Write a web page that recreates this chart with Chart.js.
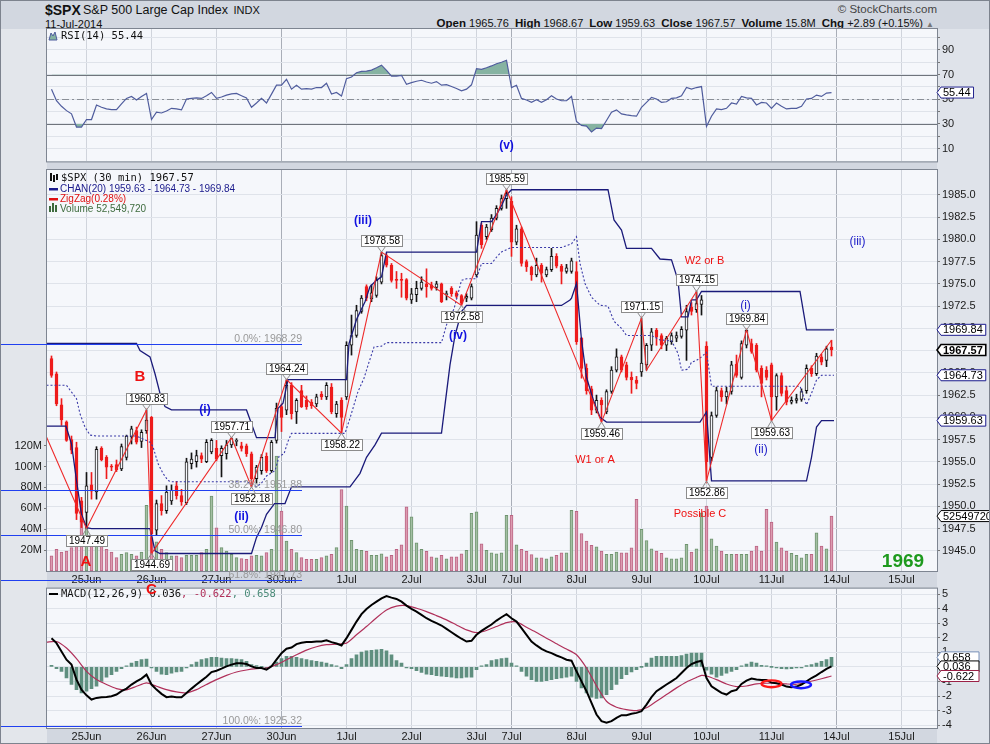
<!DOCTYPE html>
<html>
<head>
<meta charset="utf-8">
<title>$SPX 30 min</title>
<script src="https://cdn.jsdelivr.net/npm/chart.js@4.4.1/dist/chart.umd.min.js"></script>
<style>
  html, body { margin: 0; padding: 0; }
  body { width: 990px; height: 744px; position: relative; overflow: hidden; background: #d2d7e0;
         font-family: "Liberation Sans", Arial, sans-serif; color: #111; }
  canvas { position: absolute; left: 0; }
  .strip { position: absolute; }
  .hd { position: absolute; white-space: nowrap; line-height: 1; }
  .hd b { font-size: 11.5px; margin-left: 3px; }
  .hd b:first-child { margin-left: 0; }
  #frame { position: absolute; left: 0; top: 0; width: 988px; height: 742px; border: 1px solid #7d838e; }
</style>
</head>
<body>
<div class="strip" style="left:1px;top:29px;width:46px;height:714px;background:#e3e6eb"></div>
<div class="strip" style="left:937px;top:29px;width:52px;height:714px;background:#dfe3ea"></div>

<div class="hd" style="left:45px;top:3px;font-size:14px;font-weight:bold">$SPX</div>
<div class="hd" style="left:83px;top:4px;font-size:12.5px">S&amp;P 500 Large Cap Index <span style="font-size:11px;margin-left:2px">INDX</span></div>
<div class="hd" style="left:45px;top:19px;font-size:11px">11-Jul-2014</div>
<div class="hd" style="right:53px;top:4px;font-size:11.5px;color:#444">&copy; StockCharts.com</div>
<div class="hd" style="right:56px;top:18px;font-size:11px"><b>Open</b> 1965.76 <b>High</b> 1968.67 <b>Low</b> 1959.63 <b>Close</b> 1967.57 <b>Volume</b> 15.8M <b>Chg</b> +2.89 (+0.15%) <span style="color:#777;font-size:8px">&#9650;</span></div>

<canvas id="rsiChart" width="990" height="170" style="top:0"></canvas>
<canvas id="macdChart" width="990" height="164" style="top:580px"></canvas>
<canvas id="mainChart" width="990" height="744" style="top:0"></canvas>
<div id="frame"></div>

<script>
// day grid on the bar index axis
const dayTicks = [7, 20, 33, 46, 59, 72, 85, 92, 105, 118, 131, 144, 157, 170];
const dayLabels = ['25Jun', '26Jun', '27Jun', '30Jun', '1Jul', '2Jul', '3Jul', '7Jul', '8Jul', '9Jul', '10Jul', '11Jul', '14Jul', '15Jul'];
const weekStarts = [46, 92, 157];

const priceTicks = [1945, 1947.5, 1950, 1952.5, 1955, 1957.5, 1960, 1962.5, 1965, 1967.5, 1970, 1972.5, 1975, 1977.5, 1980, 1982.5, 1985];
const volTicks = [20, 40, 60, 80, 100, 120];
const rsiTicks = [10, 20, 30, 40, 50, 60, 70, 80, 90, 100];
const macdTicks = [-4, -3, -2, -1, 0, 1, 2, 3, 4, 5];

// 30 min bars, 24 Jun (last 7 bars) .. 11 Jul 2014
const opens = [1966.6,1964.9,1961.4,1959.5,1957.5,1956.6,1950.6,1949.3,1952.4,1951.6,
  1956.5,1955.5,1954.5,1954.7,1954.2,1955.5,1957.8,1958.5,1957.3,1958.5,
  1960.0,1947.3,1950.3,1949.5,1950.6,1952.3,1951.2,1950.4,1954.8,1955.0,
  1955.7,1955.0,1956.1,1956.5,1955.7,1955.9,1956.9,1957.3,1956.8,1956.8,
  1955.9,1953.1,1954.0,1955.6,1954.0,1957.4,1961.2,1960.8,1963.6,1960.6,
  1963.0,1961.9,1961.7,1961.5,1962.6,1962.3,1963.4,1960.4,1961.9,1962.3,
  1968.1,1969.2,1971.9,1974.7,1973.3,1973.7,1975.2,1978.2,1977.1,1975.5,
  1975.5,1975.5,1973.2,1973.8,1974.5,1975.0,1974.9,1974.6,1975.0,1973.8,
  1974.5,1974.0,1973.7,1973.4,1973.4,1976.0,1981.6,1980.3,1981.1,1982.4,
  1983.5,1984.6,1984.3,1979.7,1981.2,1977.5,1976.9,1976.0,1977.1,1976.0,
  1976.6,1978.1,1977.0,1976.4,1976.4,1976.4,1968.9,1965.5,1963.2,1960.8,
  1961.9,1960.6,1962.9,1965.3,1966.8,1965.9,1964.5,1964.2,1965.1,1965.9,
  1968.1,1969.8,1969.2,1968.1,1968.5,1968.9,1969.1,1969.8,1972.4,1972.1,
  1972.7,1968.0,1955.5,1960.2,1963.0,1962.3,1962.9,1966.0,1964.5,1968.1,
  1968.3,1968.1,1965.5,1965.3,1965.9,1962.3,1964.7,1963.0,1961.7,1961.9,
  1962.0,1963.0,1965.5,1964.9,1966.8,1966.4,1967.9];
const highs = [1966.9,1965.1,1962.1,1959.6,1957.9,1957.2,1951.0,1953.8,1953.8,1956.7,
  1956.7,1955.7,1954.7,1955.2,1957.0,1958.0,1959.0,1958.9,1958.6,1960.83,
  1960.1,1950.7,1951.2,1952.3,1952.4,1952.8,1951.9,1955.4,1956.0,1956.3,
  1956.0,1957.5,1957.6,1957.4,1956.8,1957.4,1957.71,1957.6,1957.2,1957.0,
  1956.1,1954.6,1955.8,1956.0,1957.4,1961.6,1961.5,1964.24,1963.9,1962.1,
  1963.6,1962.4,1962.0,1962.6,1962.9,1963.9,1963.8,1961.8,1962.2,1968.5,
  1971.5,1972.6,1973.7,1974.9,1974.9,1975.8,1978.58,1978.4,1977.3,1976.4,
  1976.2,1975.6,1974.5,1975.3,1975.8,1976.7,1975.2,1975.3,1975.1,1974.2,
  1974.7,1974.2,1973.8,1973.9,1975.0,1982.0,1981.8,1981.7,1982.8,1983.8,
  1985.0,1985.59,1984.8,1981.6,1981.4,1977.7,1977.0,1977.9,1977.3,1976.9,
  1979.0,1978.4,1977.2,1977.2,1977.9,1977.5,1969.0,1966.0,1963.5,1962.5,
  1962.2,1963.1,1965.7,1967.7,1967.0,1966.2,1965.1,1964.6,1971.15,1968.3,
  1970.0,1970.0,1969.4,1969.1,1969.5,1969.6,1970.2,1972.6,1972.9,1974.15,
  1973.7,1968.5,1960.6,1963.4,1963.3,1963.4,1966.3,1967.0,1968.6,1969.84,
  1968.8,1968.3,1965.8,1965.7,1966.1,1964.9,1965.0,1963.5,1962.3,1962.6,
  1963.2,1965.9,1965.8,1967.2,1967.1,1968.0,1968.67];
const lows = [1964.5,1961.3,1959.1,1957.3,1955.9,1948.5,1947.6,1947.49,1950.8,1950.8,
  1955.1,1953.1,1954.0,1953.9,1954.0,1955.2,1957.0,1957.0,1956.6,1958.2,
  1944.69,1946.7,1949.0,1949.2,1950.2,1950.8,1950.1,1950.2,1954.2,1954.4,
  1954.9,1954.9,1955.9,1955.1,1953.3,1955.3,1956.6,1956.8,1956.2,1955.6,
  1952.18,1952.6,1953.6,1953.8,1953.8,1957.1,1958.4,1960.3,1959.8,1959.3,
  1961.1,1960.9,1961.0,1961.2,1962.0,1962.0,1960.4,1960.0,1958.22,1962.0,
  1967.0,1969.0,1971.7,1973.1,1973.0,1973.5,1975.0,1976.9,1975.2,1974.5,
  1973.5,1973.2,1972.8,1973.0,1974.3,1973.5,1974.3,1974.3,1972.9,1973.2,
  1973.6,1973.4,1972.58,1973.0,1973.2,1975.8,1979.0,1980.0,1980.9,1982.2,
  1983.3,1983.5,1978.1,1979.4,1977.0,1976.4,1975.4,1975.8,1975.2,1975.8,
  1976.4,1976.8,1975.0,1976.2,1976.2,1968.2,1964.4,1962.6,1960.3,1960.5,
  1959.46,1960.4,1962.7,1965.1,1965.1,1964.2,1962.7,1963.2,1964.6,1965.3,
  1967.5,1968.1,1967.7,1967.5,1968.2,1968.5,1968.9,1966.4,1971.5,1971.8,
  1971.5,1952.86,1955.1,1960.0,1961.8,1961.5,1962.6,1964.5,1964.3,1967.8,
  1967.2,1965.1,1962.3,1964.2,1959.63,1960.8,1962.4,1961.4,1961.5,1961.6,
  1961.8,1962.7,1964.6,1964.7,1965.9,1965.7,1966.9];
const closes = [1964.7,1961.5,1959.7,1957.4,1956.3,1949.2,1948.2,1952.3,1951.7,1956.4,
  1955.2,1954.4,1954.4,1954.1,1956.7,1957.9,1958.7,1957.2,1958.3,1959.7,
  1946.9,1950.3,1949.5,1951.6,1951.8,1951.2,1950.5,1955.0,1955.3,1955.7,
  1955.3,1957.2,1957.4,1955.3,1956.5,1956.9,1957.6,1957.4,1956.5,1955.9,
  1953.1,1954.4,1955.5,1954.0,1957.2,1961.0,1960.0,1963.6,1960.4,1961.9,
  1961.2,1961.2,1961.3,1962.3,1962.3,1963.6,1960.6,1961.5,1960.0,1968.1,
  1969.2,1972.0,1973.4,1973.4,1974.0,1975.4,1978.2,1977.1,1975.4,1975.4,
  1975.4,1973.4,1973.9,1974.5,1975.2,1974.7,1974.5,1975.0,1973.0,1973.9,
  1973.9,1973.6,1972.8,1973.6,1974.7,1980.5,1979.4,1981.4,1982.4,1983.5,
  1984.6,1985.2,1979.7,1981.2,1977.3,1976.9,1976.0,1977.1,1976.2,1976.6,
  1978.1,1977.0,1976.4,1976.8,1977.6,1968.5,1965.5,1963.0,1960.8,1961.9,
  1961.4,1962.9,1965.3,1966.8,1965.3,1964.5,1964.2,1963.8,1966.1,1968.1,
  1969.6,1969.0,1968.1,1968.9,1969.2,1969.2,1969.9,1971.9,1971.9,1972.8,
  1973.2,1955.0,1960.2,1963.0,1962.3,1962.9,1965.9,1964.7,1968.3,1969.8,
  1967.4,1965.3,1963.8,1964.5,1962.3,1964.7,1962.7,1961.7,1961.9,1962.1,
  1962.9,1965.5,1964.9,1966.9,1966.2,1967.7,1967.57];
// volume in millions of shares
const volumes = [14.4,20.7,18.2,19.1,22.3,27.0,52.6,43.0,27.0,24.0,
  24.5,20.7,18.2,12.8,16.0,17.6,16.0,14.4,18.2,62.9,
  32.0,28.0,20.7,17.6,14.4,14.4,12.8,15.0,15.0,15.0,
  17.6,20.7,71.8,41.4,22.3,19.1,16.0,12.8,11.9,11.2,
  14.4,15.0,14.4,17.6,20.7,110.0,57.4,28.6,20.7,17.6,
  12.8,11.2,11.2,11.2,12.8,14.4,16.0,22.3,78.0,62.0,
  29.3,20.7,19.7,18.8,15.0,15.0,16.5,13.6,15.0,20.7,
  25.1,61.5,51.9,27.0,20.7,18.8,13.6,12.7,15.0,11.7,
  13.6,13.6,16.5,19.7,55.1,56.7,26.1,19.7,17.5,16.5,
  17.5,53.2,53.2,25.1,20.7,18.8,15.6,12.7,12.7,11.7,
  13.6,15.0,17.5,17.5,58.0,57.0,35.9,28.6,24.5,23.2,
  19.1,15.9,15.9,18.1,17.5,17.5,22.2,68.5,39.8,29.2,
  21.3,19.1,16.8,12.7,11.7,11.7,12.7,25.4,18.1,21.3,
  55.7,62.1,30.8,23.8,19.1,15.9,15.9,15.9,15.9,15.9,
  19.1,23.8,19.1,58.9,46.8,27.6,22.2,19.1,16.8,14.9,
  12.7,15.9,15.9,36.5,23.8,21.3,52.55];
const lastVolume = 52549720;

const rsi = [58.1,48.8,44.3,40.8,38.2,27.5,27.5,33.6,33.6,45.4,
  43.5,42.2,41.6,41.6,46.2,50.7,52.3,49.4,52.3,54.7,
  33.6,39.5,38.9,40.5,42.7,42.2,41.4,50.2,50.7,51.2,
  50.7,52.8,55.5,50.7,51.8,53.4,54.4,54.7,52.8,51.0,
  43.5,47.0,50.7,47.0,54.2,61.4,61.4,66.2,58.2,61.4,
  58.2,58.7,58.2,59.5,59.5,63.0,54.2,55.5,52.6,66.7,
  68.0,71.5,72.6,72.8,73.6,75.5,77.6,73.4,68.8,68.8,
  69.4,62.2,63.5,64.6,65.4,64.0,63.0,64.3,61.4,61.9,
  60.3,58.7,56.8,58.2,61.7,74.7,74.2,75.5,77.0,78.8,
  80.0,81.6,59.5,61.4,50.7,49.4,47.5,49.6,47.5,49.6,
  52.8,50.2,48.8,48.8,52.3,32.0,28.8,28.3,23.5,26.7,
  26.2,32.8,39.5,41.4,38.2,37.4,36.8,36.3,43.5,47.5,
  51.5,50.2,47.5,48.0,50.7,51.2,52.8,59.5,58.2,59.5,
  60.3,28.0,36.3,42.2,41.6,42.7,47.0,46.2,52.3,51.2,
  50.7,45.4,47.5,47.0,42.7,47.0,44.3,42.2,42.7,42.7,
  44.3,50.2,50.7,53.4,52.3,55.0,55.44];

const macd = [1.98,1.64,1.07,0.50,0.16,-0.87,-1.56,-1.95,-2.24,-2.13,
  -2.08,-2.06,-2.01,-1.90,-1.67,-1.49,-1.21,-0.99,-0.80,-0.53,
  -1.21,-1.56,-1.85,-2.08,-2.04,-2.08,-2.08,-1.79,-1.49,-1.21,
  -0.94,-0.67,-0.35,-0.26,-0.12,0.04,0.16,0.25,0.25,0.20,
  0.04,-0.07,-0.07,-0.19,0.04,0.50,0.95,1.25,1.34,1.57,
  1.66,1.71,1.71,1.75,1.75,1.84,1.71,1.61,1.48,1.98,
  2.55,3.12,3.63,3.99,4.26,4.49,4.72,4.88,4.77,4.68,
  4.49,4.22,3.99,3.81,3.58,3.35,3.17,3.01,2.85,2.62,
  2.39,2.16,1.94,1.75,1.80,2.21,2.48,2.71,2.92,3.19,
  3.42,3.63,3.35,3.12,2.67,2.21,1.75,1.48,1.25,1.07,
  0.95,0.79,0.66,0.50,0.43,-0.30,-0.99,-1.67,-2.47,-3.27,
  -3.73,-3.84,-3.73,-3.50,-3.32,-3.32,-3.22,-3.16,-3.04,-2.59,
  -2.08,-1.67,-1.44,-1.21,-0.99,-0.76,-0.42,-0.07,0.20,0.34,
  0.43,-0.76,-1.33,-1.56,-1.78,-1.90,-1.67,-1.58,-1.17,-0.94,
  -0.80,-0.87,-0.90,-0.90,-1.08,-1.12,-1.21,-1.35,-1.40,-1.35,
  -1.21,-0.99,-0.76,-0.58,-0.35,-0.14,0.036];
const macdHist = [0.11,-0.12,-0.30,-0.76,-1.21,-1.56,-1.78,-1.67,-1.49,-1.33,
  -0.99,-0.71,-0.53,-0.30,-0.12,0.04,0.27,0.38,0.50,0.54,
  -0.07,-0.30,-0.49,-0.53,-0.42,-0.35,-0.30,-0.07,0.16,0.34,
  0.50,0.57,0.66,0.66,0.61,0.57,0.57,0.54,0.50,0.38,
  0.16,0.09,0.00,-0.12,0.04,0.34,0.57,0.73,0.73,0.66,
  0.57,0.50,0.43,0.38,0.34,0.27,0.16,0.04,-0.12,0.16,
  0.57,0.84,1.02,1.11,1.14,1.18,1.21,1.11,0.84,0.43,
  0.27,-0.03,-0.12,-0.26,-0.37,-0.49,-0.53,-0.60,-0.64,-0.67,
  -0.71,-0.76,-0.76,-0.71,-0.71,-0.19,0.04,0.16,0.43,0.50,
  0.57,0.61,0.27,0.04,-0.30,-0.64,-0.87,-0.99,-0.99,-0.94,
  -0.87,-0.80,-0.76,-0.71,-0.64,-0.99,-1.44,-1.78,-2.08,-2.17,
  -2.13,-1.90,-1.56,-1.21,-0.80,-0.53,-0.35,-0.19,0.00,0.27,
  0.61,0.73,0.73,0.73,0.73,0.73,0.79,0.88,0.95,0.95,
  0.95,-0.23,-0.49,-0.71,-0.58,-0.42,-0.30,-0.19,0.04,0.20,
  0.34,0.27,0.11,0.04,0.00,-0.07,-0.12,-0.14,-0.12,-0.07,
  -0.03,0.09,0.16,0.27,0.38,0.50,0.658];
// signal line, read every other bar: [bar index, value]
const macdSignal = [[-1,1.71],[1,1.75],[3,1.30],[5,0.57],[7,-0.30],[9,-0.87],[11,-1.21],[13,-1.49],[15,-1.58],[17,-1.33],
  [19,-1.10],[21,-1.33],[23,-1.56],[25,-1.72],[27,-1.79],[29,-1.56],[31,-1.21],[33,-0.87],[35,-0.58],[37,-0.35],
  [39,-0.21],[41,-0.12],[43,-0.07],[45,0.16],[47,0.50],[49,0.84],[51,1.16],[53,1.39],[55,1.53],[57,1.57],
  [59,1.64],[61,2.21],[63,2.78],[65,3.39],[67,3.92],[69,4.19],[71,4.22],[73,4.04],[75,3.81],[77,3.53],
  [79,3.24],[81,2.89],[83,2.55],[85,2.37],[87,2.51],[89,2.78],[91,3.05],[93,3.10],[95,2.73],[97,2.37],
  [99,1.98],[101,1.59],[103,1.23],[105,0.84],[107,-0.07],[109,-1.30],[111,-2.36],[113,-2.77],[115,-2.93],[117,-3.00],
  [119,-2.81],[121,-2.36],[123,-1.90],[125,-1.44],[127,-1.03],[129,-0.72],[130,-0.58],[131,-0.62],[133,-0.87],[135,-1.17],
  [137,-1.35],[139,-1.31],[141,-1.17],[143,-1.12],[145,-1.12],[147,-1.17],[149,-1.19],[151,-1.06],[153,-0.90],[155,-0.72],[156,-0.622]];

// price channel (20), read at its corners: [bar index, price]
const chanUpper = [[-1,1968.3],[17,1968.3],[17.7,1967.5],[19.7,1966.8],[20.7,1964.9],[21.7,1962.7],[22.7,1961.2],[24,1960.83],
  [39,1960.83],[41,1957.71],[44.7,1957.71],[45.3,1961.0],[46.3,1961.6],[47.3,1964.24],[59,1964.24],[59.5,1968.3],
  [61,1971.0],[62.7,1973.0],[63.7,1974.7],[65,1975.4],[66,1975.8],[67,1978.58],[85,1978.58],[86,1982.0],[88,1982.0],
  [89,1982.8],[90,1983.8],[91,1985.0],[92,1985.59],[111.3,1985.59],[112.5,1982.2],[114,1981.06],[115,1979.0],[120,1979.0],
  [121.7,1977.8],[124,1977.7],[125.3,1975.4],[126,1971.3],[127.3,1971.3],[128,1973.2],[129,1973.2],[130,1974.15],
  [149.7,1974.15],[151,1969.84],[156.5,1969.84]];
const chanLower = [[-1,1959.0],[2.9,1959.0],[4,1957.0],[5,1952.9],[6,1949.1],[7,1947.6],[8,1947.49],[19.7,1947.49],
  [20.7,1945.0],[21.7,1944.69],[40,1944.69],[41,1946.5],[42,1947.6],[43,1949.1],[44.6,1950.3],[46.7,1950.3],[48,1952.18],
  [59.7,1952.18],[61.7,1953.7],[63,1955.5],[64.7,1956.9],[66,1958.22],[78,1958.22],[78.7,1961.4],[79.7,1965.9],
  [80.7,1969.2],[82,1971.9],[83,1972.58],[102,1972.58],[103.7,1973.2],[104,1973.4],[105,1975.05],[106,1968.7],
  [107,1964.5],[108.4,1961.9],[109.7,1960.0],[111,1959.46],[129.7,1959.46],[131,1960.6],[132,1952.86],[151,1952.86],
  [152,1955.5],[153,1958.9],[154,1959.63],[156.5,1959.63]];
const chanMid = [[-1,1963.6],[3,1963.6],[5,1962.1],[5.7,1960.4],[6.7,1958.9],[7.7,1958.0],[9,1957.9],[17,1957.9],
  [19.7,1957.2],[20.3,1956.7],[21.3,1954.8],[22.3,1953.7],[23.3,1952.9],[24,1952.76],[39,1952.76],[41,1952.2],
  [42,1952.6],[43,1953.4],[44.7,1954.0],[45.5,1955.6],[46.5,1955.9],[47.3,1957.3],[48,1958.2],[58.7,1958.2],
  [59.7,1959.9],[61.3,1962.9],[62.5,1964.4],[63.5,1966.2],[64.5,1967.9],[66,1968.0],[67,1968.4],[78,1968.4],
  [79,1970.4],[80.5,1972.2],[82,1975.4],[83,1975.58],[85,1975.58],[86,1977.3],[88,1977.3],[89,1978.0],[90,1978.6],
  [92,1979.1],[102,1979.1],[104,1979.5],[105,1980.3],[105.7,1977.3],[106.7,1975.05],[108,1973.5],[109.7,1972.6],
  [111.3,1972.5],[112.5,1970.8],[114,1970.0],[115,1969.2],[120,1969.2],[121.7,1968.7],[124,1968.6],[125.3,1967.2],
  [126,1965.3],[127.3,1965.4],[128,1966.2],[129,1966.4],[130,1966.8],[131,1967.3],[132,1963.5],[149.7,1963.5],
  [151,1961.4],[152,1962.7],[153,1964.2],[154,1964.73],[156.5,1964.73]];

const zigzag = [[-1,1957.8],[7,1947.49],[19,1960.83],[20,1944.69],[36,1957.71],[40,1952.18],[47,1964.24],[58,1958.22],
  [66,1978.58],[82,1972.58],[91,1985.59],[110,1959.46],[118,1971.15],[119,1965.3],[129,1974.15],[131,1952.86],
  [139,1969.84],[144,1959.63],[156,1968.67]];
const pivotLabels = [[7,1947.49],[19,1960.83],[20,1944.69],[36,1957.71],[40,1952.18],[47,1964.24],[58,1958.22],
  [66,1978.58],[82,1972.58],[91,1985.59],[110,1959.46],[118,1971.15],[129,1974.15],[131,1952.86],[139,1969.84],[144,1959.63]];

const fibLevels = [['0.0%', 1968.29], ['38.2%', 1951.88], ['50.0%', 1946.80], ['61.8%', 1941.73], ['100.0%', 1925.32]];
const fibEnd = 50.1;

// hand-drawn wave notes: [text, bar index, price, kind]
const waveNotes = [
  ['B', 17.7, 1964.6, 'big'], ['A', 6.9, 1943.8, 'big'], ['C', 20, 1940.6, 'big'],
  ['(i)', 30.7, 1960.9, 'wave'], ['(ii)', 38, 1948.8, 'wave'], ['(iii)', 62.3, 1982.1, 'wave'],
  ['(iv)', 81.3, 1969.2, 'wave'], ['(v)', 91, 1990.5, 'wave'],
  ['W2 or B', 130.6, 1977.6, 'note'], ['W1 or A', 108.7, 1955.2, 'note'], ['Possible C', 129.7, 1949.1, 'note'],
  ['(i)', 138.8, 1972.5, 'sub'], ['(ii)', 141.9, 1956.4, 'sub'], ['(iii)', 161.2, 1979.7, 'sub'],
  ['1969', 170.3, 1943.8, 'target']
];
// crossover circles on MACD: [bar index, value, colour]
const macdRings = [[144, -1.16, '#ff1a1a'], [149.9, -1.23, '#1a1aff']];

const N = closes.length;
const xMin = -0.9, xMax = 177.1;
const PANEL_BG = '#f5f7fb';
const GRID = '#dfe3ea';
const RED = '#ee1c1c';
const isUp = closes.map((c, i) => c >= opens[i]);
const pts = arr => arr.map(p => ({ x: p[0], y: p[1] }));
const series = arr => arr.map((v, i) => ({ x: i, y: v }));

function dayScale(withLabels) {
  return {
    type: 'linear', min: xMin, max: xMax, offset: false,
    afterBuildTicks: s => { s.ticks = dayTicks.map(v => ({ value: v })); },
    afterFit: s => { s.height = withLabels ? 16 : 0; },
    ticks: {
      display: withLabels, autoSkip: false, maxRotation: 0, minRotation: 0, padding: 2,
      color: '#1a1a1a', font: { family: 'Liberation Sans', size: 11 },
      callback: v => dayLabels[dayTicks.indexOf(v)]
    },
    grid: { drawTicks: false, offset: false, color: c => weekStarts.includes(c.tick.value) ? '#a9aeb8' : '#d0d4dc' },
    border: { display: false }
  };
}

function rightAxis(min, max, ticks, fmt) {
  return {
    position: 'right', min: min, max: max,
    afterBuildTicks: s => { s.ticks = ticks.map(v => ({ value: v })); },
    afterFit: s => { s.width = 53; },
    ticks: { autoSkip: false, color: '#1a1a1a', font: { family: 'Liberation Sans', size: 11 }, padding: 2, callback: fmt },
    grid: { color: GRID, tickColor: '#777', tickLength: 3 },
    border: { display: false }
  };
}

const common = {
  responsive: false, animation: false, devicePixelRatio: 1, events: [],
  plugins: { legend: { display: false }, tooltip: { enabled: false } }
};

const panelPlugin = {
  id: 'panel',
  beforeDraw(chart) {
    const { ctx, chartArea: a } = chart;
    ctx.save();
    ctx.fillStyle = PANEL_BG;
    ctx.fillRect(a.left, a.top, a.right - a.left, a.bottom - a.top);
    ctx.restore();
  },
  afterDatasetsDraw(chart) {
    const { ctx, chartArea: a } = chart;
    ctx.save();
    ctx.strokeStyle = '#7e8591';
    ctx.lineWidth = 1;
    ctx.strokeRect(a.left - 0.5, a.top - 0.5, a.right - a.left + 1, a.bottom - a.top + 1);
    ctx.restore();
  }
};

// value flag on the right axis
function axisFlag(ctx, x, y, txt, border, bold, minW) {
  ctx.font = (bold ? 'bold ' : '') + '11px "Liberation Sans"';
  const w = Math.max(minW || 0, ctx.measureText(txt).width + 5);
  ctx.beginPath();
  ctx.moveTo(x, y);
  ctx.lineTo(x + 4, y - 5.5);
  ctx.lineTo(x + 4 + w, y - 5.5);
  ctx.lineTo(x + 4 + w, y + 5.5);
  ctx.lineTo(x + 4, y + 5.5);
  ctx.closePath();
  ctx.fillStyle = '#fff';
  ctx.fill();
  ctx.lineWidth = bold ? 1.6 : 1;
  ctx.strokeStyle = border;
  ctx.stroke();
  ctx.fillStyle = '#000';
  ctx.textAlign = 'left';
  ctx.textBaseline = 'middle';
  ctx.fillText(txt, x + 6, y + 0.5);
}

/* ---------------- RSI ---------------- */
const RSI_FILL = '#86b3a2';
const rsiOverlay = {
  id: 'rsiOverlay',
  beforeDatasetsDraw(chart) {
    const { ctx, chartArea: a, scales: { y } } = chart;
    ctx.save();
    [[70, []], [30, []], [50, [7, 3, 2, 3]]].forEach(([v, dash]) => {
      const py = Math.round(y.getPixelForValue(v)) + 0.5;
      ctx.strokeStyle = v === 50 ? '#8a8f97' : '#6f747c';
      ctx.setLineDash(dash);
      ctx.beginPath(); ctx.moveTo(a.left, py); ctx.lineTo(a.right, py); ctx.stroke();
    });
    ctx.restore();
  },
  afterDraw(chart) {
    const { ctx, chartArea: a, scales: { y } } = chart;
    ctx.save();
    // legend
    ctx.fillStyle = RSI_FILL; ctx.strokeStyle = '#4f5c9d';
    ctx.beginPath(); ctx.moveTo(49, 40); ctx.lineTo(51, 33); ctx.lineTo(53, 36); ctx.lineTo(55, 32); ctx.lineTo(57, 40); ctx.closePath();
    ctx.fill(); ctx.stroke();
    ctx.fillStyle = '#111';
    ctx.font = '10.5px "DejaVu Sans Mono"';
    ctx.textBaseline = 'middle';
    ctx.fillText('RSI(14) ' + rsi[N - 1].toFixed(2), 61, 36);
    axisFlag(ctx, a.right, y.getPixelForValue(rsi[N - 1]), rsi[N - 1].toFixed(2), '#23238e', false);
    ctx.restore();
  }
};

new Chart(document.getElementById('rsiChart'), {
  type: 'line',
  data: {
    datasets: [
      { data: series(rsi), borderColor: '#4f5c9d', borderWidth: 1.2, pointRadius: 0, tension: 0,
        fill: { target: { value: 70 }, above: RSI_FILL, below: 'rgba(0,0,0,0)' } },
      { data: series(rsi), borderColor: 'rgba(0,0,0,0)', borderWidth: 0, pointRadius: 0, tension: 0,
        fill: { target: { value: 30 }, above: 'rgba(0,0,0,0)', below: RSI_FILL } }
    ]
  },
  options: Object.assign({}, common, {
    layout: { autoPadding: false, padding: { left: 47, top: 29, bottom: 6, right: 0 } },
    scales: {
      x: dayScale(false),
      y: rightAxis(-0.3, 106.9, rsiTicks, v => (v % 20 === 10 ? String(v) : ''))
    }
  }),
  plugins: [panelPlugin, rsiOverlay]
});

/* ---------------- MACD ---------------- */
const MACD_RED = '#b0305a';
const MACD_HIST = '#5f8f7f';
const macdOverlay = {
  id: 'macdOverlay',
  afterDraw(chart) {
    const { ctx, chartArea: a, scales: { x, y } } = chart;
    ctx.save();
    macdRings.forEach(([i, v, c]) => {
      ctx.beginPath();
      ctx.ellipse(x.getPixelForValue(i), y.getPixelForValue(v), 10, 3.4, 0, 0, Math.PI * 2);
      ctx.strokeStyle = c; ctx.lineWidth = 2.4; ctx.stroke();
    });
    // legend
    ctx.fillStyle = '#000';
    ctx.fillRect(49, 13, 9, 2);
    ctx.font = '10.5px "DejaVu Sans Mono"';
    ctx.textBaseline = 'middle';
    let tx = 61;
    const seg = (t, c) => { ctx.fillStyle = c; ctx.fillText(t, tx, 14); tx += ctx.measureText(t).width; };
    const sig = macdSignal[macdSignal.length - 1][1];
    seg('MACD(12,26,9) ' + macd[N - 1].toFixed(3), '#111');
    seg(', ' + sig.toFixed(3), MACD_RED);
    seg(', ' + macdHist[N - 1].toFixed(3), '#4a8a78');
    axisFlag(ctx, a.right, y.getPixelForValue(macdHist[N - 1]), macdHist[N - 1].toFixed(3), '#7890b8', false, 38);
    axisFlag(ctx, a.right, y.getPixelForValue(macd[N - 1]), macd[N - 1].toFixed(3), '#000', false, 38);
    axisFlag(ctx, a.right, y.getPixelForValue(sig), sig.toFixed(3), '#9a1f45', false, 38);
    ctx.restore();
  }
};

new Chart(document.getElementById('macdChart'), {
  type: 'bar',
  data: {
    datasets: [
      { type: 'line', data: series(macd), borderColor: '#000', borderWidth: 2, pointRadius: 0, order: 1 },
      { type: 'line', data: pts(macdSignal), borderColor: MACD_RED, borderWidth: 1.2, pointRadius: 0, tension: 0.2, order: 2 },
      { type: 'bar', data: series(macdHist), backgroundColor: MACD_HIST, borderColor: '#3d6b5c', borderWidth: 0,
        barThickness: 3, grouped: false, minBarLength: 1, order: 3 }
    ]
  },
  options: Object.assign({}, common, {
    layout: { autoPadding: false, padding: { left: 47, top: 7, bottom: 0, right: 0 } },
    scales: {
      x: dayScale(true),
      y: rightAxis(-4.2, 5.39, macdTicks, v => String(v))
    }
  }),
  plugins: [panelPlugin, macdOverlay]
});

/* ---------------- price + volume ---------------- */
function pivotBox(ctx, px, py, txt, above) {
  ctx.font = '10px "Liberation Sans"';
  const w = Math.round(ctx.measureText(txt).width + 5), h = 11;
  const bx = Math.round(px - w / 2) + 0.5;
  const by = Math.round(above ? py - 6 - h : py + 6) + 0.5;
  ctx.strokeStyle = '#8c8c8c'; ctx.lineWidth = 1;
  ctx.beginPath();
  if (above) { ctx.moveTo(px - 4, by + h); ctx.lineTo(px, py); ctx.lineTo(px + 4, by + h); }
  else { ctx.moveTo(px - 4, by); ctx.lineTo(px, py); ctx.lineTo(px + 4, by); }
  ctx.stroke();
  ctx.fillStyle = '#fff';
  ctx.fillRect(bx, by, w, h);
  ctx.strokeRect(bx, by, w, h);
  ctx.fillStyle = '#000';
  ctx.textAlign = 'center'; ctx.textBaseline = 'middle';
  ctx.fillText(txt, bx + w / 2, by + h / 2 + 0.5);
}

const noteStyle = {
  big: ['bold 15px "Liberation Sans"', '#ee1111'],
  wave: ['bold 12px "Liberation Sans"', '#1111e0'],
  note: ['11px "Liberation Sans"', '#ee1111'],
  sub: ['12px "Liberation Sans"', '#1c1cc8'],
  target: ['bold 19px "Liberation Sans"', '#1e9a1e']
};

const mainOverlay = {
  id: 'mainOverlay',
  afterDraw(chart) {
    const { ctx, chartArea: a, scales: { x, y, vol } } = chart;
    ctx.save();
    // fibonacci retracement lines
    const fx = x.getPixelForValue(fibEnd);
    fibLevels.forEach(([pct, p]) => {
      const py = Math.round(y.getPixelForValue(p)) + 0.5;
      ctx.strokeStyle = '#2040f0'; ctx.lineWidth = 1;
      ctx.beginPath(); ctx.moveTo(0, py); ctx.lineTo(fx, py); ctx.stroke();
      ctx.fillStyle = '#999';
      ctx.font = '10.5px "Liberation Sans"';
      ctx.textAlign = 'right'; ctx.textBaseline = 'alphabetic';
      ctx.fillText(pct + ': ' + p.toFixed(2), fx, py - 2.5);
    });
    // zigzag pivot values
    pivotLabels.forEach(([i, p]) => {
      const above = Math.abs(highs[i] - p) < 0.005;
      pivotBox(ctx, x.getPixelForValue(i), y.getPixelForValue(p), p.toFixed(2), above);
    });
    // wave notes
    waveNotes.forEach(([t, i, p, kind]) => {
      ctx.font = noteStyle[kind][0];
      ctx.fillStyle = noteStyle[kind][1];
      ctx.textAlign = 'center'; ctx.textBaseline = 'middle';
      ctx.fillText(t, x.getPixelForValue(i), y.getPixelForValue(p));
    });
    // legend
    ctx.textAlign = 'left'; ctx.textBaseline = 'middle';
    ctx.fillStyle = '#111';
    [[50, 173, 181], [53, 175, 182], [56, 174, 180]].forEach(([lx, t, b]) => ctx.fillRect(lx, t, 2, b - t));
    ctx.font = '10.5px "DejaVu Sans Mono"';
    ctx.fillText('$SPX (30 min) ' + closes[N - 1].toFixed(2), 61, 178);
    ctx.font = '10px "Liberation Sans"';
    ctx.fillStyle = '#1a1a8c'; ctx.fillRect(49, 188, 9, 2.5);
    const lo = chanLower[chanLower.length - 1][1], mid = chanMid[chanMid.length - 1][1], up = chanUpper[chanUpper.length - 1][1];
    ctx.fillText('CHAN(20) ' + lo.toFixed(2) + ' - ' + mid.toFixed(2) + ' - ' + up.toFixed(2), 60, 189.5);
    ctx.fillStyle = '#e01010'; ctx.fillRect(49, 198, 9, 2.5);
    ctx.fillText('ZigZag(0.28%)', 60, 199.5);
    ctx.fillStyle = '#3d6b3d';
    [[49, 206], [52, 203], [55, 205]].forEach(([lx, t]) => ctx.fillRect(lx, t, 2, 212 - t));
    ctx.fillText('Volume ' + lastVolume.toLocaleString('en-US'), 60, 209);
    // right axis flags
    axisFlag(ctx, a.right, y.getPixelForValue(up), up.toFixed(2), '#1a1a8c', false);
    axisFlag(ctx, a.right, y.getPixelForValue(mid), mid.toFixed(2), '#1a1a8c', false);
    axisFlag(ctx, a.right, y.getPixelForValue(lo), lo.toFixed(2), '#1a1a8c', false);
    axisFlag(ctx, a.right, vol.getPixelForValue(volumes[N - 1]), String(lastVolume), '#000', false);
    axisFlag(ctx, a.right, y.getPixelForValue(closes[N - 1]), closes[N - 1].toFixed(2), '#000', true);
    ctx.restore();
  }
};

new Chart(document.getElementById('mainChart'), {
  type: 'bar',
  data: {
    datasets: [
      { type: 'line', label: 'ZigZag', data: pts(zigzag), borderColor: '#ee2a2a', borderWidth: 1.1, pointRadius: 0, order: 1 },
      { type: 'line', data: pts(chanUpper), borderColor: '#1a1a7a', borderWidth: 1.3, pointRadius: 0, order: 2 },
      { type: 'line', data: pts(chanLower), borderColor: '#1a1a7a', borderWidth: 1.3, pointRadius: 0, order: 2 },
      { type: 'line', data: pts(chanMid), borderColor: '#3a3aa8', borderWidth: 1.1, borderDash: [2, 2], pointRadius: 0, order: 2 },
      { type: 'bar', label: 'body', data: opens.map((o, i) => ({ x: i, y: [o, closes[i]] })),
        backgroundColor: isUp.map(u => (u ? PANEL_BG : RED)), borderColor: isUp.map(u => (u ? '#151515' : RED)),
        borderWidth: 1, borderSkipped: false, barThickness: 3, minBarLength: 1, grouped: false, order: 5 },
      { type: 'bar', label: 'wick', data: lows.map((l, i) => ({ x: i, y: [l, highs[i]] })),
        backgroundColor: isUp.map(u => (u ? '#151515' : RED)), borderWidth: 0, barThickness: 1, grouped: false, order: 6 },
      { type: 'bar', label: 'volume', yAxisID: 'vol', data: series(volumes),
        backgroundColor: isUp.map(u => (u ? '#a3bfa3' : '#dc9bb0')), borderColor: isUp.map(u => (u ? '#6f946f' : '#bb6483')),
        borderWidth: 1, borderSkipped: false, barThickness: 3, grouped: false, order: 10 }
    ]
  },
  options: Object.assign({}, common, {
    layout: { autoPadding: false, padding: { left: 0, top: 170, bottom: 157, right: 0 } },
    scales: {
      x: dayScale(true),
      y: rightAxis(1942.72, 1987.81, priceTicks, v => v.toFixed(1)),
      vol: {
        position: 'left', min: 0, max: 383.7,
        afterBuildTicks: s => { s.ticks = volTicks.map(v => ({ value: v })); },
        afterFit: s => { s.width = 47; },
        ticks: { autoSkip: false, color: '#1a1a1a', font: { family: 'Liberation Sans', size: 11 }, padding: 2, callback: v => v + 'M' },
        grid: { drawOnChartArea: false, tickColor: '#777', tickLength: 3 },
        border: { display: false }
      }
    }
  }),
  plugins: [panelPlugin, mainOverlay]
});
</script>
</body>
</html>
